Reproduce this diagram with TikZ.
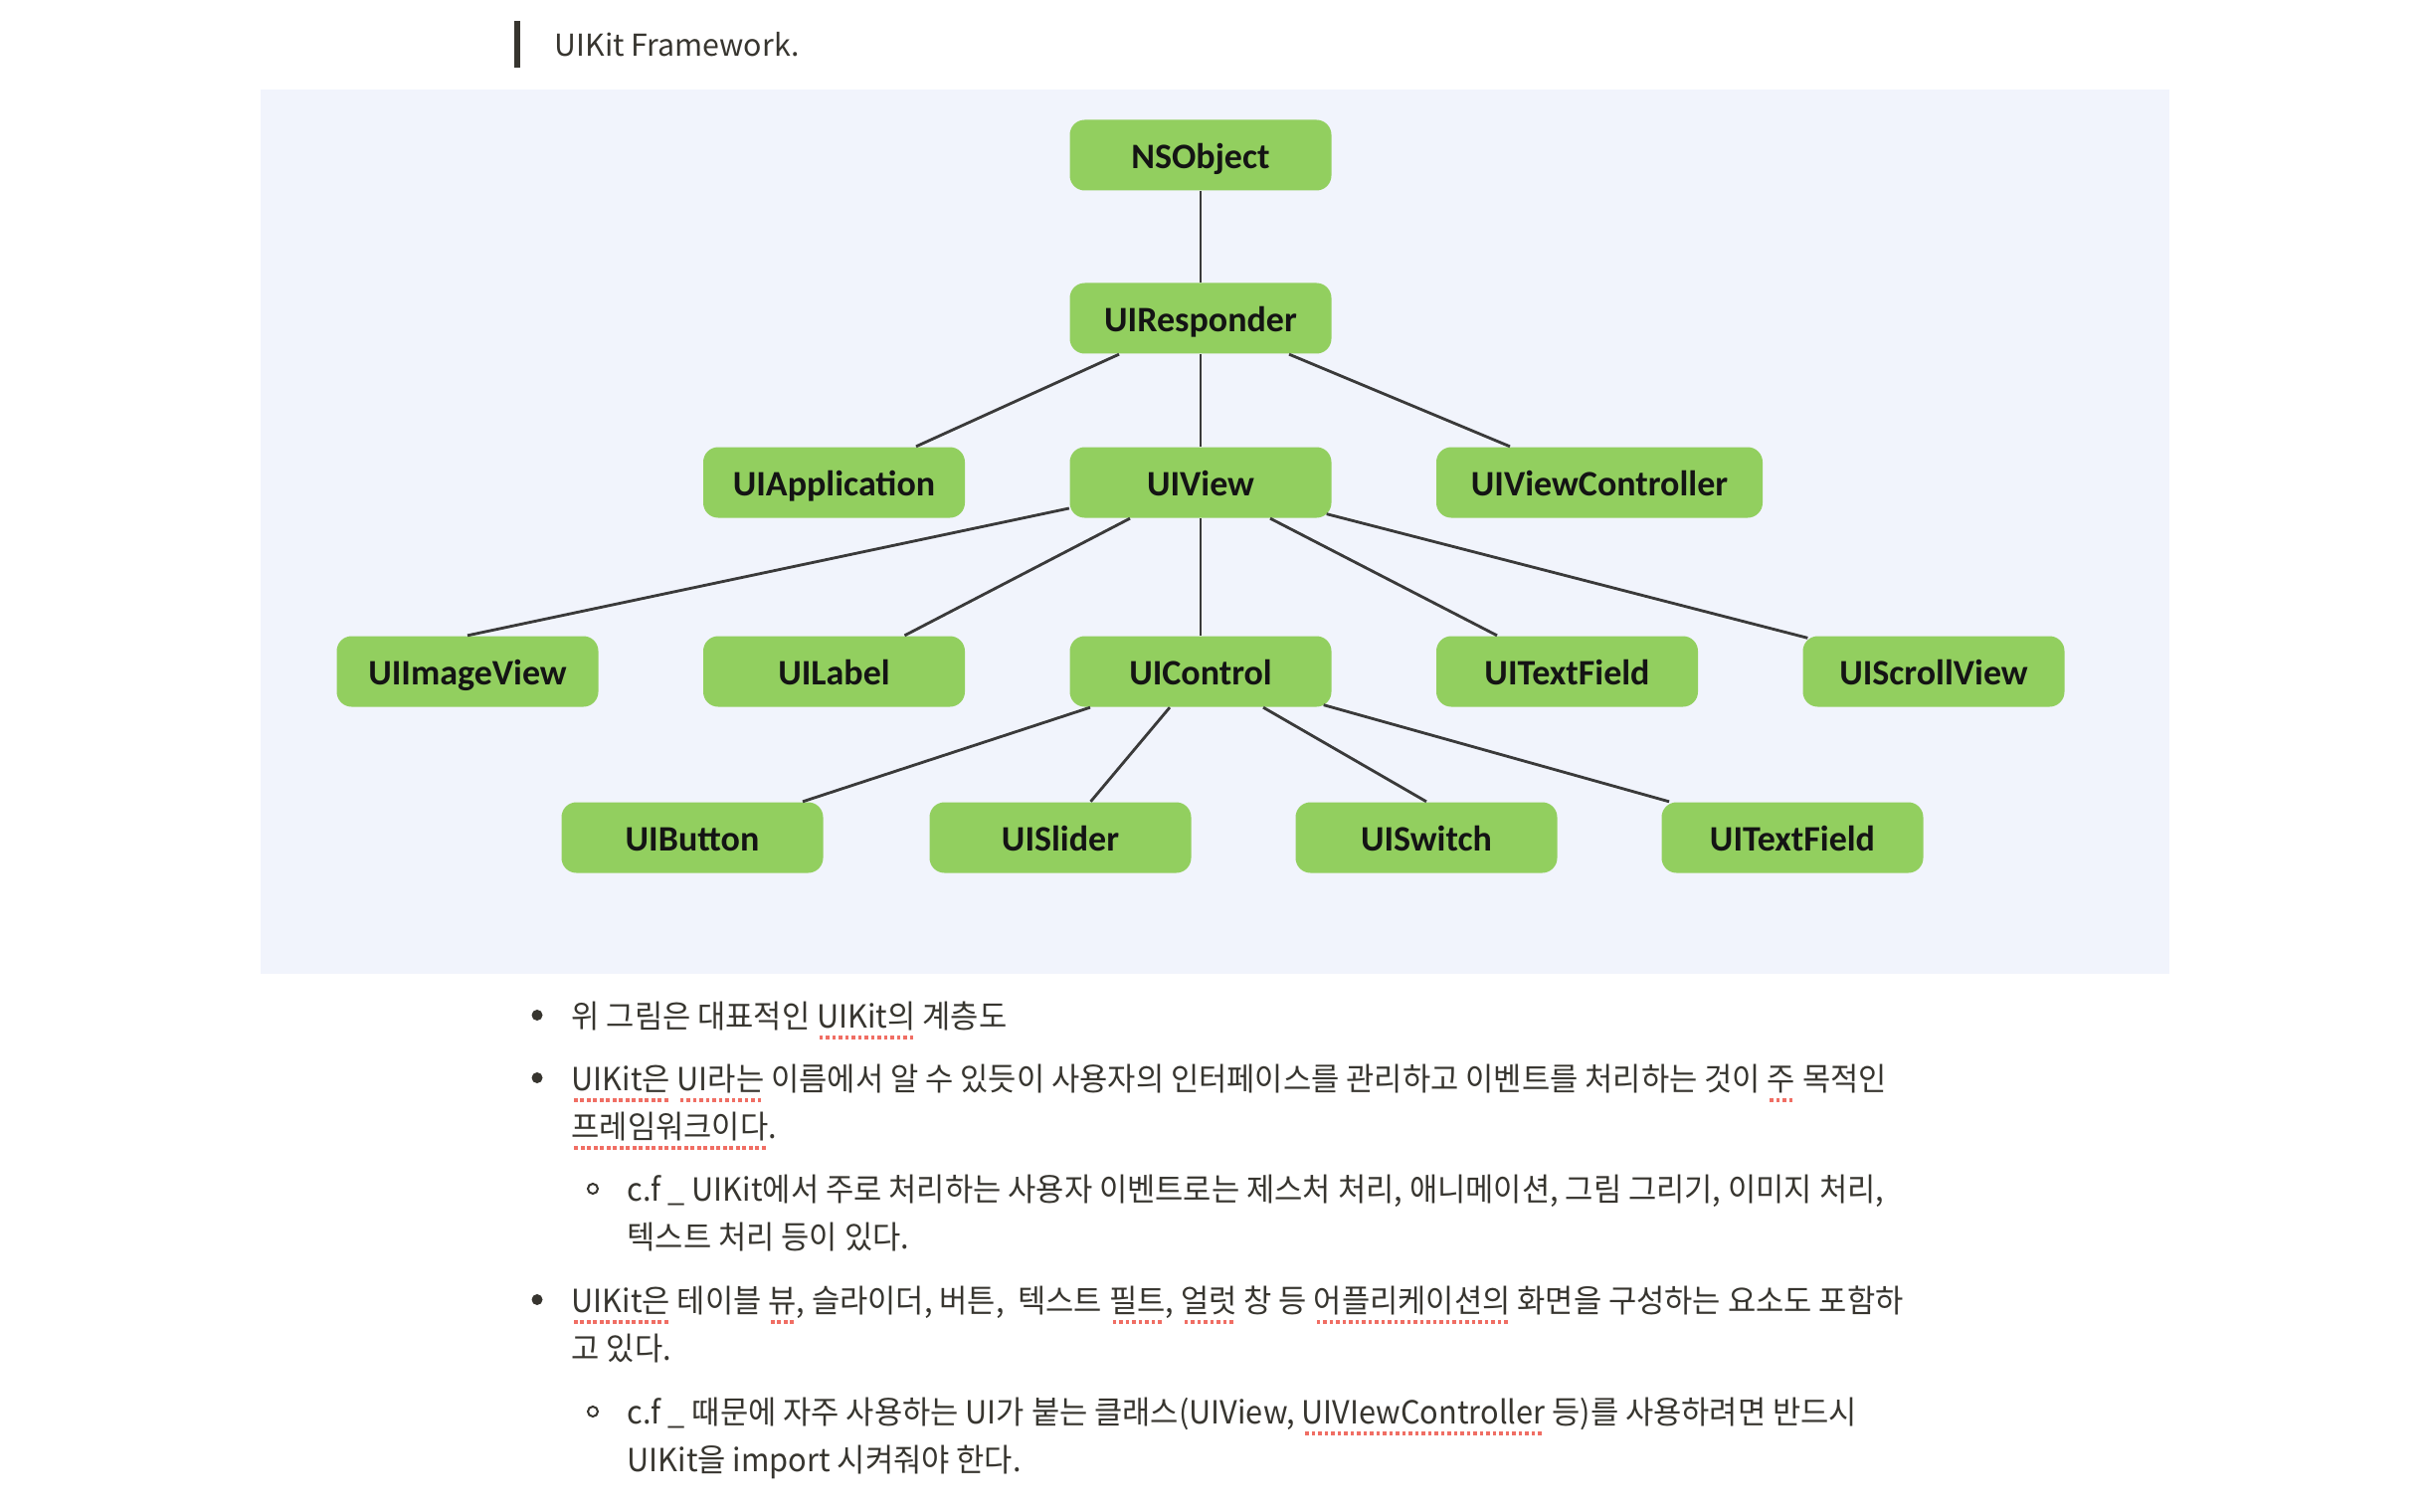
\documentclass[tikz,border=0pt]{standalone}
\usepackage{fontspec}
\setmainfont{Noto Sans CJK KR}
\newfontfamily\boxfont{Carlito}
\newfontfamily\bodyfont[FakeStretch=0.96]{Noto Sans CJK KR}
\definecolor{boxgreen}{RGB}{146,207,95}
\definecolor{panel}{RGB}{241,244,252}
\definecolor{ink}{RGB}{55,53,47}
\definecolor{wire}{RGB}{58,58,58}
\definecolor{spellred}{RGB}{240,110,100}
\newbox\splbox
\newcommand\spl[1]{\setbox\splbox\hbox{#1}\leavevmode\rlap{\raisebox{-3.6pt}[0pt][0pt]{\textcolor{spellred}{\hbox to\wd\splbox{\cleaders\hbox{\kern0.4pt\rule{1.1pt}{1.1pt}\kern0.45pt}\hfil}}}}\box\splbox}
\begin{document}
\begin{tikzpicture}[x=0.3pt,y=-0.3pt,
	cls/.style={fill=boxgreen,rounded corners=4.5pt,minimum width=78.9pt,minimum height=21.3pt,inner sep=0pt,text height=8.16pt,text depth=0pt,text=black!92,font=\boxfont\bfseries\fontsize{10.8}{12}\selectfont},
	link/.style={draw=wire,line width=0.85pt},
	txt/.style={anchor=base west,inner sep=0pt,text=ink,font=\bodyfont\fontsize{9.6}{11}\selectfont}]
	\useasboundingbox (0,0) rectangle (2444,1520);
	\fill [panel] (262,90) rectangle (2181,979);
	\fill [ink] (517,21) rectangle (523,68);
	\node [anchor=base west,inner sep=0pt,text=ink,font=\fontsize{9.1}{11}\selectfont] (title) at (557,57) {UIKit Framework.};
	\node [cls] (nsobject) at (1207,156) {NSObject};
	\node [cls] (responder) at (1207,320) {UIResponder};
	\node [cls] (application) at (838.5,485) {UIApplication};
	\node [cls] (view) at (1207,485) {UIView};
	\node [cls,minimum width=98.4pt] (viewcontroller) at (1608,485) {UIViewController};
	\node [cls] (imageview) at (470,675) {UIImageView};
	\node [cls] (label) at (838.5,675) {UILabel};
	\node [cls] (control) at (1207,675) {UIControl};
	\node [cls] (textfield) at (1575.5,675) {UITextField};
	\node [cls] (scrollview) at (1944,675) {UIScrollView};
	\node [cls] (button) at (696,842) {UIButton};
	\node [cls] (slider) at (1066,842) {UISlider};
	\node [cls] (switch) at (1434,842) {UISwitch};
	\node [cls] (textfieldb) at (1802,842) {UITextField};
	\draw [link] (nsobject.south) -- (responder.north);
	\draw [link] ([xshift=-24.6pt]responder.south) -- ([xshift=24.75pt]application.north);
	\draw [link] (responder.south) -- (view.north);
	\draw [link] ([xshift=26.7pt]responder.south) -- ([xshift=-27pt]viewcontroller.north);
	\draw [link] ([yshift=-7.8pt]view.west) -- (imageview.north);
	\draw [link] ([xshift=-21.3pt]view.south) -- ([xshift=21.3pt]label.north);
	\draw [link] (view.south) -- (control.north);
	\draw [link] ([xshift=21pt]view.south) -- ([xshift=-21.15pt]textfield.north);
	\draw [link] ([xshift=-1.65pt,yshift=1.35pt]view.south east) -- ([xshift=1.65pt,yshift=-0.75pt]scrollview.north west);
	\draw [link] ([xshift=-33.3pt]control.south) -- ([xshift=33.3pt]button.north);
	\draw [link] ([xshift=-9.3pt]control.south) -- ([xshift=9.15pt]slider.north);
	\draw [link] ([xshift=18.9pt]control.south) -- (switch.north);
	\draw [link] ([xshift=-2.55pt,yshift=0.75pt]control.south east) -- ([xshift=2.46pt]textfieldb.north west);
	\fill [ink] (540,1020.5) circle (1.65pt);
	\node [txt] (itema) at (574,1033) {위 그림은 대표적인 \spl{UIKit의} 계층도};
	\fill [ink] (540,1083.5) circle (1.65pt);
	\node [txt] (itemb) at (574,1096) {\spl{UIKit은} \spl{UI라는} 이름에서 알 수 있듯이 사용자의 인터페이스를 관리하고 이벤트를 처리하는 것이 \spl{주} 목적인};
	\node [txt] (itembb) at (574,1144) {\spl{프레임워크이다}.};
	\draw [ink,line width=0.6pt] (596,1195) circle (1.5pt);
	\node [txt] (notea) at (630,1207) {c.f \_ UIKit에서 주로 처리하는 사용자 이벤트로는 제스처 처리, 애니메이션, 그림 그리기, 이미지 처리,};
	\node [txt] (noteab) at (630,1255) {텍스트 처리 등이 있다.};
	\fill [ink] (540,1306.5) circle (1.65pt);
	\node [txt] (itemc) at (574,1319) {\spl{UIKit은} 테이블 \spl{뷰}, 슬라이더, 버튼,\ \ 텍스트 \spl{필트}, \spl{얼럿} 창 등 \spl{어플리케이션의} 화면을 구성하는 요소도 포함하};
	\node [txt] (itemcb) at (574,1367) {고 있다.};
	\draw [ink,line width=0.6pt] (596,1419) circle (1.5pt);
	\node [txt] (noteb) at (630,1431) {c.f \_ 때문에 자주 사용하는 UI가 붙는 클래스(UIView, \spl{UIVIewController} 등)를 사용하려면 반드시};
	\node [txt] (notebb) at (630,1479) {UIKit을 import 시켜줘야 한다.};
\end{tikzpicture}
\end{document}
